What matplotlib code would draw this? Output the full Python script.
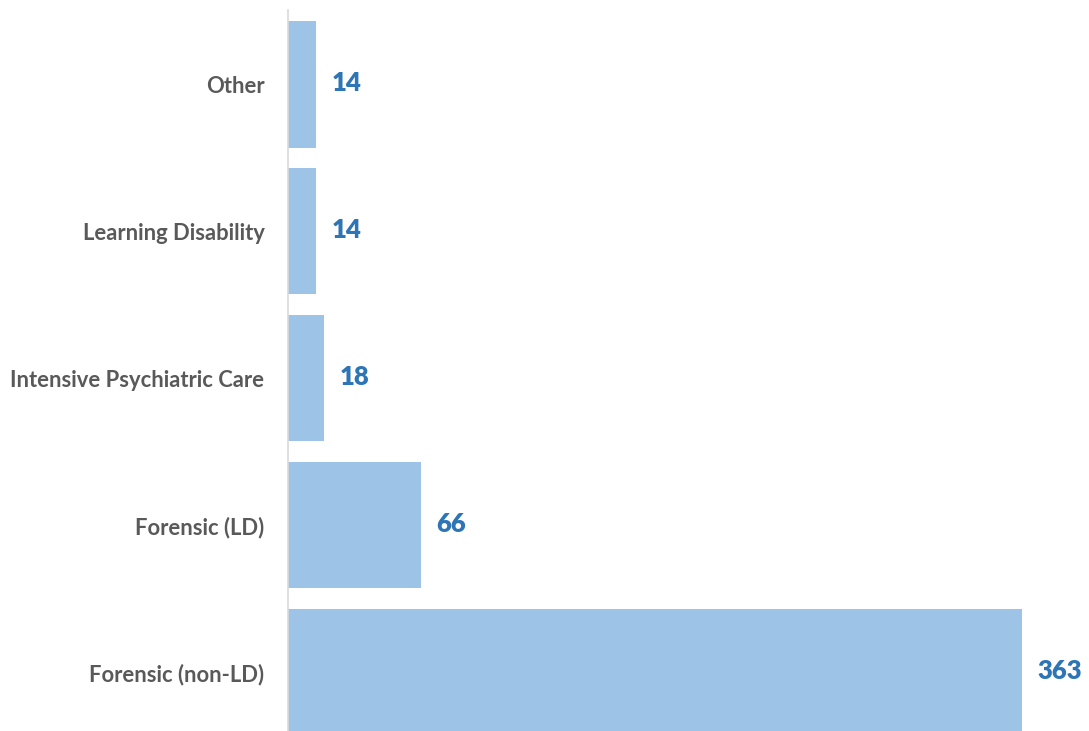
import matplotlib
matplotlib.use("Agg")
import matplotlib.pyplot as plt

categories = ["Forensic (non-LD)", "Forensic (LD)", "Intensive Psychiatric Care",
              "Learning Disability", "Other"]
values = [363, 66, 18, 14, 14]

BAR_COLOR = "#9DC3E6"
VALUE_COLOR = "#2E75B6"
LABEL_COLOR = "#595959"

W, H = 1089, 731
fig = plt.figure(figsize=(W / 100, H / 100), dpi=100)
# axes spans from the left axis line to the right edge; bottom bar runs off the figure
ax = fig.add_axes([288 / W, 0, 1 - 288 / W, (731 - 10) / H])

pos = list(range(len(categories)))
ax.barh(pos, values, height=0.858, color=BAR_COLOR, zorder=2)
ax.set_xlim(0, (W - 288) / 2.022)
ax.set_ylim(-0.40, 4.507)

ax.set_yticks(pos)
ax.set_yticklabels(categories, fontfamily="Lato", fontweight="bold",
                   fontsize=15.8, color=LABEL_COLOR)
ax.tick_params(axis="y", length=0, pad=17)
ax.set_xticks([])

for side in ("top", "right", "bottom"):
    ax.spines[side].set_visible(False)
ax.spines["left"].set_color("#D9D9D9")
ax.spines["left"].set_linewidth(1.2)

for y, v in zip(pos, values):
    ax.annotate(str(v), xy=(v, y), xytext=(11, 1), textcoords="offset points",
                ha="left", va="center", fontfamily="Lato", fontweight="heavy",
                fontsize=18.5, color=VALUE_COLOR, annotation_clip=False)

fig.savefig("out.png", dpi=100)
